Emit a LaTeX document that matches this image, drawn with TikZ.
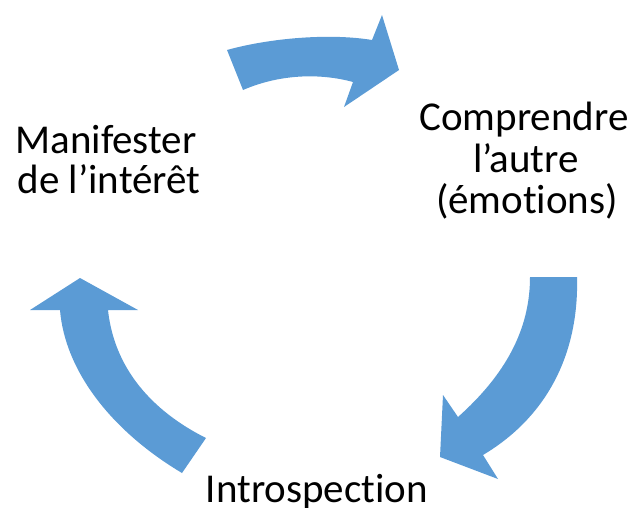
\documentclass[tikz,border=0pt]{standalone}
\usepackage{fontspec}
\setmainfont{Carlito}[Ligatures={NoCommon,NoContextual}]
\begin{document}
\begin{tikzpicture}[x=1pt,y=-1pt,
  cyclearrow/.style={fill=arrowblue,draw=none},
  lbl/.style={inner sep=0pt,anchor=base,font=\fontsize{41}{41}\selectfont}]
\definecolor{arrowblue}{HTML}{5B9BD5}
\useasboundingbox (0,0) rectangle (636,507);
% top arrow
\fill[cyclearrow] (227,50) .. controls (270,38) and (330,33) .. (372,40)
  -- (382,15) -- (399,70) -- (344,107) -- (353,82)
  .. controls (320,73) and (280,74) .. (243,90) -- cycle;
% right arrow
\fill[cyclearrow] (530,277) -- (577,277)
  .. controls (579,350) and (550,415) .. (483,455)
  -- (498,479) -- (440,457) -- (443,395) -- (458,417)
  .. controls (505,375) and (530,330) .. (530,277) -- cycle;
% left arrow
\fill[cyclearrow] (182,473) .. controls (110,430) and (65,370) .. (60,310)
  -- (30,310) -- (80,278) -- (138,310) -- (108,310)
  .. controls (115,375) and (160,415) .. (206,438) -- cycle;
% labels
\node[lbl] (m1) at (106,153) {Manifester};
\node[lbl] (m2) at (109,193) {de l’intérêt};
\node[lbl] (c1) at (524,130) {Comprendre};
\node[lbl] (c2) at (526,172) {l’autre};
\node[lbl] (c3) at (527,213) {(émotions)};
\node[lbl] (i1) at (317,502) {Introspection};
\end{tikzpicture}
\end{document}
